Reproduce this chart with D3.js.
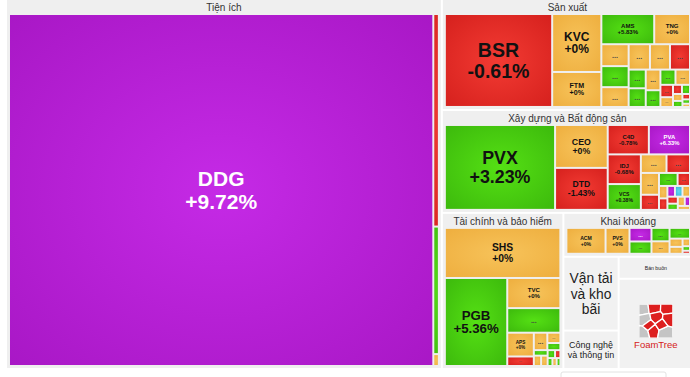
<!DOCTYPE html>
<html>
<head>
<meta charset="utf-8">
<script src="https://cdn.jsdelivr.net/npm/d3@7"></script>
<style>
body { margin: 0; background: #fff; }
svg { display: block; font-family: "Liberation Sans", Arial, sans-serif; }
</style>
</head>
<body>
<div id="container"></div>
<script>
"use strict";

var width = 690;
var height = 377;

// sectors, in the order the map lays them out
var sectorNames = ["Tiện ích", "Sản xuất", "Xây dựng và Bất động sản", "Tài chính và bảo hiểm",
    "Khai khoáng", "Vận tải và kho bãi", "Công nghệ và thông tin", "Bán buôn"];

// stocks of the open sectors ("" = ticker not readable, shown as "...")
var tienIchTickers = ["DDG", "", "", ""];
var tienIchWeights = [1589, 12.5, 7.5, 0.7];
var tienIchChanges = [9.72, -1.5, 2.1, 0];

var sanXuatTickers = ["BSR", "KVC", "FTM", "AMS", "TNG", "", "", "", "", "", "", "", "", "", "", "", "", "", "", "", "", "", "", "", "", ""];
var sanXuatWeights = [121.8, 34.8, 21.0, 19.5, 13.2, 7.3, 6.2, 7.0, 6.2, 6.6, 3.9, 3.9, 6.6, 3.7, 3.0, 2.7, 2.8, 1.9, 1.5, 1.0, 0.9, 0.8, 0.7, 0.5, 0.4, 0.3];
var sanXuatChanges = [-0.61, 0, 0, 5.83, 0, 0, 0, 1.2, -1.1, 0, 2.0, 1.5, 0, 0, 0.9, 0, 1.8, -2.0, 0, -0.8, 1.0, 0, 1.3, -1.4, 0.7, 0];

var xayDungTickers = ["PVX", "CEO", "DTD", "C4D", "PVA", "IDJ", "VCS", "", "", "", "", "", "", "", "", "", "", "", "", "", "", "", ""];
var xayDungWeights = [116, 28.0, 27.4, 15.0, 15.0, 12.2, 10.6, 5.9, 5.4, 4.9, 3.0, 2.0, 3.4, 1.0, 1.2, 1.3, 1.0, 1.0, 0.9, 0.8, 0.8, 0.6, 0.6];
var xayDungChanges = [3.23, 0, -1.43, -0.78, 6.33, -0.68, 0.38, 0, -1.5, 0, 1.4, -0.9, -2.2, 6.9, -1.0, 0, -6.9, 0, -0.5, 1.1, 0, 6.7, 0];

var taiChinhTickers = ["SHS", "PGB", "TVC", "", "APS", "", "", "", "", "", "", "", "", "", "", "", ""];
var taiChinhWeights = [68.7, 65.2, 19.0, 15.5, 7.5, 3.0, 2.8, 1.6, 1.1, 0.9, 0.9, 0.8, 0.7, 0.5, 0.45, 0.4, 0.35];
var taiChinhChanges = [0, 5.36, 0, 1.6, 0, -1.2, 0, 0, 2.2, 1.0, 0, 0, 0.8, -0.9, 1.5, 0, 0.6];

var khaiKhoangTickers = ["ACM", "PVS", "", "", "", "", "", "", "", "", "", ""];
var khaiKhoangWeights = [18.0, 11.0, 5.3, 4.8, 4.3, 4.0, 3.9, 1.9, 1.6, 1.0, 0.6, 0.4];
var khaiKhoangChanges = [0, 0, 7.0, 1.2, 1.5, 0, 0.9, 0, 0, 0, 1.1, -1.0];

// collapsed sectors only show their name
var closedNames = ["Vận tải và kho bãi", "Công nghệ và thông tin", "Bán buôn"];
var closedWeights = [40.7, 21.2, 16.3];
var logoWeight = 67;

var openSectors = {
    "Tiện ích": [tienIchTickers, tienIchWeights, tienIchChanges],
    "Sản xuất": [sanXuatTickers, sanXuatWeights, sanXuatChanges],
    "Xây dựng và Bất động sản": [xayDungTickers, xayDungWeights, xayDungChanges],
    "Tài chính và bảo hiểm": [taiChinhTickers, taiChinhWeights, taiChinhChanges],
    "Khai khoáng": [khaiKhoangTickers, khaiKhoangWeights, khaiKhoangChanges]
};

//how the sectors are nested when splitting the area (indexes into sectorNames)
var sectorNesting = [0, [1, 2, [3, [4, [[5, 6], [7, "logo"]]]]]];
var binaryTiled = ["Tài chính và bảo hiểm"];

var classColours = {
    ceil: ["#c52ae6", "#a817c5"],
    up: ["#55e014", "#3cb90c"],
    flat: ["#f7c35a", "#eeae3e"],
    down: ["#f33b33", "#d5201d"],
    floor: ["#62d8f2", "#35b6da"]
};

function colourClass(c) {
    if (c >= 6) return "ceil";
    if (c <= -6) return "floor";
    if (c > 0) return "up";
    if (c < 0) return "down";
    return "flat";
}

function formatChange(c) {
    if (c === 0) return "+0%";
    return (c > 0 ? "+" : "") + c.toFixed(2) + "%";
}

function buildNode(spec) {
    if (spec === "logo") return { kind: "logo", weight: logoWeight };
    if (Array.isArray(spec)) return { kind: "split", children: spec.map(buildNode) };
    var name = sectorNames[spec];
    var stocks = openSectors[name];
    if (!stocks) {
        return { kind: "closed", name: name, weight: closedWeights[closedNames.indexOf(name)] };
    }
    return {
        kind: "group",
        name: name,
        children: stocks[0].map(function (t, i) {
            return { kind: "stock", ticker: t, weight: stocks[1][i], change: stocks[2][i] };
        })
    };
}

var squarify = d3.treemapSquarify.ratio(1);

function tile(node, x0, y0, x1, y1) {
    if (node.data.kind === "group") {
        var fn = binaryTiled.indexOf(node.data.name) >= 0 ? d3.treemapBinary : squarify;
        fn(node, x0, y0, x1, y1);
    } else if (x1 - x0 > y1 - y0) {
        d3.treemapDice(node, x0, y0, x1, y1);
    } else {
        d3.treemapSlice(node, x0, y0, x1, y1);
    }
}

function isGroup(n) { return n.data.kind === "group"; }

var root = d3.hierarchy(buildNode(sectorNesting))
    .sum(function (d) { return d.children ? 0 : d.weight; })
    .sort(function (a, b) { return a.parent.data.kind === "group" ? b.value - a.value : 0; });

d3.treemap()
    .tile(tile)
    .size([685, 368])
    .paddingInner(2)
    .paddingTop(function (n) { return isGroup(n) ? 15 : 0; })
    .paddingLeft(function (n) { return isGroup(n) ? 3 : 0; })
    .paddingRight(function (n) { return isGroup(n) ? 3 : 0; })
    .paddingBottom(function (n) { return isGroup(n) ? 3 : 0; })(root);

//text measuring
var ctx = document.createElement("canvas").getContext("2d");
function measure(text, size, weight) {
    ctx.font = (weight || "normal") + " " + size + "px 'Liberation Sans', Arial, sans-serif";
    return ctx.measureText(text).width;
}

var svg = d3.select("#container").append("svg")
    .attr("width", width).attr("height", height);

var defs = svg.append("defs");
Object.keys(classColours).forEach(function (k) {
    var g = defs.append("radialGradient").attr("id", "fill-" + k)
        .attr("cx", "50%").attr("cy", "50%").attr("r", "72%");
    g.append("stop").attr("offset", "0%").attr("stop-color", classColours[k][0]);
    g.append("stop").attr("offset", "100%").attr("stop-color", classColours[k][1]);
});

var chart = svg.append("g").attr("transform", "translate(7,0)");

var nodes = root.descendants();

// sector backgrounds and titles
var groups = nodes.filter(isGroup);
chart.selectAll("rect.group").data(groups).enter().append("rect")
    .attr("class", "group")
    .attr("x", function (d) { return d.x0; })
    .attr("y", function (d) { return d.y0; })
    .attr("width", function (d) { return d.x1 - d.x0; })
    .attr("height", function (d) { return d.y1 - d.y0; })
    .style("fill", "#efefef");

chart.selectAll("text.group-title").data(groups).enter().append("text")
    .attr("class", "group-title")
    .attr("x", function (d) { return (d.x0 + d.x1) / 2; })
    .attr("y", function (d) { return d.y0 + 7.5; })
    .attr("text-anchor", "middle")
    .attr("dominant-baseline", "central")
    .style("font-size", "10px")
    .style("fill", "#333")
    .text(function (d) { return d.data.name; });

// stocks
var stockNodes = nodes.filter(function (n) { return n.data.kind === "stock"; });
var cells = chart.selectAll("g.stock").data(stockNodes).enter().append("g").attr("class", "stock");

cells.append("rect")
    .attr("x", function (d) { return d.x0; })
    .attr("y", function (d) { return d.y0; })
    .attr("width", function (d) { return Math.max(0, d.x1 - d.x0); })
    .attr("height", function (d) { return Math.max(0, d.y1 - d.y0); })
    .style("fill", function (d) { return "url(#fill-" + colourClass(d.data.change) + ")"; });

cells.each(function (d) {
    var w = d.x1 - d.x0;
    var h = d.y1 - d.y0;
    var cx = (d.x0 + d.x1) / 2;
    var cy = (d.y0 + d.y1) / 2;
    var colour = colourClass(d.data.change) === "ceil" ? "#fff" : "#111";
    var sel = d3.select(this);

    if (d.data.ticker) {
        var lines = [d.data.ticker, formatChange(d.data.change)];
        var em = d3.max(lines, function (l) { return measure(l, 100, "bold") / 100; });
        var size = Math.min(21, 0.75 * w / em, 0.215 * h);
        if (size >= 4.5) {
            sel.selectAll("text").data(lines).enter().append("text")
                .attr("x", cx)
                .attr("y", function (l, i) { return cy + (i - 0.5) * size * 1.05; })
                .attr("text-anchor", "middle")
                .attr("dominant-baseline", "central")
                .style("font-size", size + "px")
                .style("font-weight", "bold")
                .style("fill", colour)
                .text(function (l) { return l; });
            return;
        }
    }
    if (w >= 10 && h >= 7) {
        sel.append("text")
            .attr("x", cx)
            .attr("y", cy)
            .attr("text-anchor", "middle")
            .attr("dominant-baseline", "central")
            .style("font-size", Math.min(7, h * 0.45) + "px")
            .style("font-weight", "bold")
            .style("fill", colour === "#fff" ? "#fff" : "#444")
            .text("...");
    }
});

// collapsed sectors
var closedNodes = nodes.filter(function (n) { return n.data.kind === "closed"; });
var closedCells = chart.selectAll("g.closed").data(closedNodes).enter().append("g").attr("class", "closed");

closedCells.append("rect")
    .attr("x", function (d) { return d.x0; })
    .attr("y", function (d) { return d.y0; })
    .attr("width", function (d) { return d.x1 - d.x0; })
    .attr("height", function (d) { return d.y1 - d.y0; })
    .style("fill", "#f1f1f1");

function wrapLabel(text, w, h, maxSize) {
    var words = text.split(" ");
    for (var size = maxSize; size > 3; size -= 0.5) {
        var lines = [];
        var line = "";
        words.forEach(function (word) {
            var test = line ? line + " " + word : word;
            if (line && measure(test, size) > w * 0.9) {
                lines.push(line);
                line = word;
            } else {
                line = test;
            }
        });
        lines.push(line);
        var widest = d3.max(lines, function (l) { return measure(l, size); });
        if (widest <= w * 0.9 && lines.length * size * 1.15 <= h * 0.85) {
            return { size: size, lines: lines };
        }
    }
    return { size: 3, lines: [text] };
}

closedCells.each(function (d) {
    var w = d.x1 - d.x0;
    var h = d.y1 - d.y0;
    var fit = wrapLabel(d.data.name, w, h, Math.min(20, 0.26 * Math.min(w, h)));
    var n = fit.lines.length;
    d3.select(this).selectAll("text").data(fit.lines).enter().append("text")
        .attr("x", (d.x0 + d.x1) / 2)
        .attr("y", function (l, i) { return (d.y0 + d.y1) / 2 + (i - (n - 1) / 2) * fit.size * 1.1; })
        .attr("text-anchor", "middle")
        .attr("dominant-baseline", "central")
        .style("font-size", fit.size + "px")
        .style("fill", "#222")
        .text(function (l) { return l; });
});

// FoamTree branding tile
var logoNode = nodes.filter(function (n) { return n.data.kind === "logo"; })[0];
var logoSeeds = [[0.12, 0.14], [0.45, 0.1], [0.83, 0.12], [0.18, 0.46], [0.52, 0.4],
    [0.87, 0.44], [0.12, 0.84], [0.42, 0.76], [0.76, 0.82], [0.66, 0.6], [0.3, 0.62]];
var logoGrey = [0, 3, 6, 8];

function drawLogo(node) {
    var w = node.x1 - node.x0;
    var h = node.y1 - node.y0;
    var g = chart.append("g");
    g.append("rect")
        .attr("x", node.x0).attr("y", node.y0)
        .attr("width", w).attr("height", h)
        .style("fill", "#f1f1f1");

    var s = 34;
    var lx = node.x0 + (w - s) / 2;
    var ly = node.y0 + h * 0.47 - s / 2;
    defs.append("clipPath").attr("id", "logo-clip").append("rect")
        .attr("x", lx).attr("y", ly).attr("width", s).attr("height", s).attr("rx", 3);

    var x = d3.scaleLinear().range([lx, lx + s]);
    var y = d3.scaleLinear().range([ly, ly + s]);
    var pts = logoSeeds.map(function (p) { return [x(p[0]), y(p[1])]; });
    var vor = d3.Delaunay.from(pts).voronoi([lx, ly, lx + s, ly + s]);

    g.append("g").attr("clip-path", "url(#logo-clip)")
        .selectAll("path").data(pts).enter().append("path")
        .attr("d", function (p, i) { return vor.renderCell(i); })
        .style("fill", function (p, i) { return logoGrey.indexOf(i) >= 0 ? "#c4c4c4" : "#dd1f1f"; })
        .style("stroke", "#fff")
        .style("stroke-width", 1.3)
        .style("stroke-linejoin", "round");

    g.append("text")
        .attr("x", node.x0 + w / 2)
        .attr("y", ly + s + 6.5)
        .attr("text-anchor", "middle")
        .attr("dominant-baseline", "central")
        .style("font-size", "9.5px")
        .style("fill", "#d42020")
        .text("FoamTree");
}
drawLogo(logoNode);

// the page's search box peeking in at the bottom
svg.append("rect")
    .attr("x", 561).attr("y", 372)
    .attr("width", 105).attr("height", 10)
    .attr("rx", 2)
    .style("fill", "#fff")
    .style("stroke", "#e2e2e2");
</script>
</body>
</html>
